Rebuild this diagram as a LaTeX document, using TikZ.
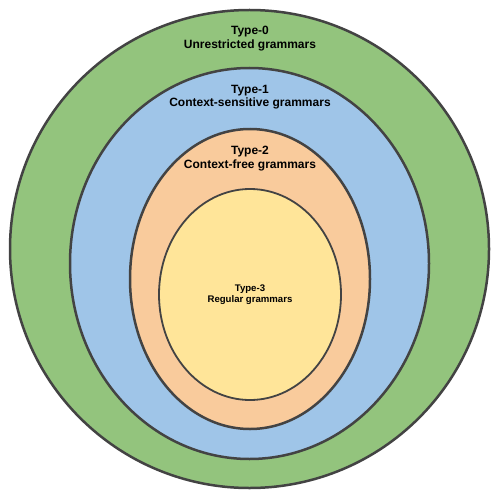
\documentclass[tikz,border=0pt]{standalone}
\usepackage{fontspec}
\setmainfont{Liberation Sans}
\begin{document}
\begin{tikzpicture}[x=1pt,y=-1pt,
  ring/.style={draw=ringline,line width=2.5pt},
  lbl/.style={font=\bfseries\fontsize{12}{13.5}\selectfont,align=center,text=black,inner sep=0pt},
  lblsmall/.style={font=\bfseries\fontsize{9.6}{11}\selectfont,align=center,text=black,inner sep=0pt}]
\definecolor{ringline}{HTML}{434343}
\definecolor{g0}{HTML}{93C47D}
\definecolor{g1}{HTML}{9FC5E8}
\definecolor{g2}{HTML}{F9CB9C}
\definecolor{g3}{HTML}{FFE599}
\useasboundingbox (0,0) rectangle (500,500);
\fill[white] (0,0) rectangle (500,500);
\path[ring,fill=g0] (249.5,249) ellipse [x radius=239.5, y radius=239];
\path[ring,fill=g1] (249.5,263.5) ellipse [x radius=179.5, y radius=195.5];
\path[ring,fill=g2] (250,279) ellipse [x radius=120, y radius=150];
\path[ring,fill=g3,line width=1.8pt] (250,294.5) ellipse [x radius=91, y radius=105.5];
\node[lbl] (t0) at (250,38.5) {Type-0\\Unrestricted grammars};
\node[lbl] (t1) at (250,97) {Type-1\\Context-sensitive grammars};
\node[lbl] (t2) at (250,158.5) {Type-2\\Context-free grammars};
\node[lblsmall] (t3) at (250,295) {Type-3\\Regular grammars};
\end{tikzpicture}
\end{document}
